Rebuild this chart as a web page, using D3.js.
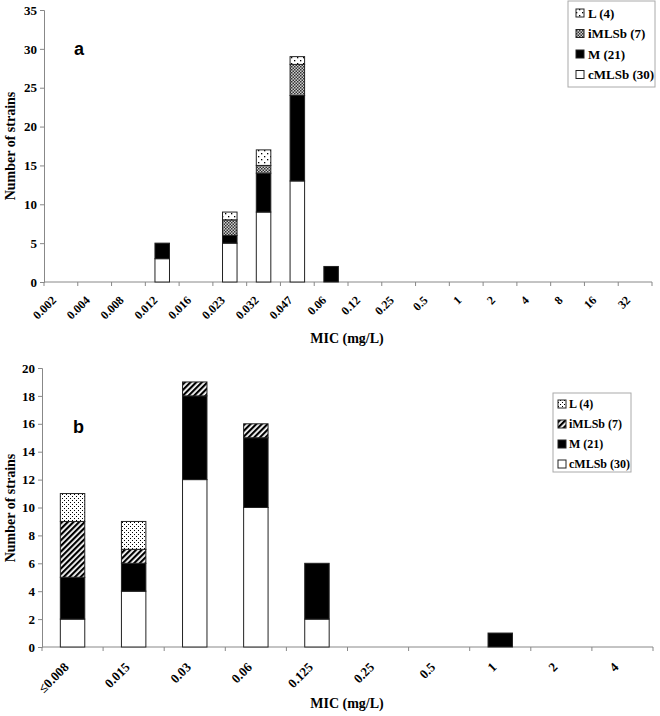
<!DOCTYPE html>
<html><head><meta charset="utf-8">
<script src="https://cdn.jsdelivr.net/npm/d3@7"></script>
<style>body{margin:0;background:#fff}svg{display:block}</style>
</head><body>
<svg id="c" width="660" height="716"></svg>
<script>
// ---- data ----
const seriesKeys = ["cMLSb", "M", "iMLSb", "L"];
const legendLabels = ["L (4)", "iMLSb (7)", "M (21)", "cMLSb (30)"];

const catsA = ["0.002","0.004","0.008","0.012","0.016","0.023","0.032","0.047","0.06","0.12","0.25","0.5","1","2","4","8","16","32"];
const cMLSbA = [0,0,0,3,0,5,9,13,0,0,0,0,0,0,0,0,0,0];
const MA     = [0,0,0,2,0,1,5,11,2,0,0,0,0,0,0,0,0,0];
const iMLSbA = [0,0,0,0,0,2,1,4,0,0,0,0,0,0,0,0,0,0];
const LA     = [0,0,0,0,0,1,2,1,0,0,0,0,0,0,0,0,0,0];
const yTicksA = [0,5,10,15,20,25,30,35];

const catsB = ["\u22640.008","0.015","0.03","0.06","0.125","0.25","0.5","1","2","4"];
const cMLSbB = [2,4,12,10,2,0,0,0,0,0];
const MB     = [3,2,6,5,4,0,0,1,0,0];
const iMLSbB = [4,1,1,1,0,0,0,0,0,0];
const LB     = [2,2,0,0,0,0,0,0,0,0];
const yTicksB = [0,2,4,6,8,10,12,14,16,18,20];

const svg = d3.select("#c");
const defs = svg.append("defs");

// patterns
function dots(id, size, r) {
  const p = defs.append("pattern").attr("id", id).attr("patternUnits","userSpaceOnUse")
    .attr("width", size).attr("height", size);
  p.append("rect").attr("width",size).attr("height",size).attr("fill","#fff");
  p.append("rect").attr("x",0).attr("y",0).attr("width",r).attr("height",r).attr("fill","#000");
  p.append("rect").attr("x",size/2).attr("y",size/2).attr("width",r).attr("height",r).attr("fill","#000");
}
dots("dotA", 6, 1.3);
dots("dotB", 4, 1);
{
  const p = defs.append("pattern").attr("id","checkA").attr("patternUnits","userSpaceOnUse").attr("width",3).attr("height",3);
  p.append("rect").attr("width",3).attr("height",3).attr("fill","#cfcfcf");
  p.append("rect").attr("width",1.5).attr("height",1.5).attr("fill","#333");
  p.append("rect").attr("x",1.5).attr("y",1.5).attr("width",1.5).attr("height",1.5).attr("fill","#333");
}
{
  const p = defs.append("pattern").attr("id","hatchB").attr("patternUnits","userSpaceOnUse")
    .attr("width",4).attr("height",4).attr("patternTransform","rotate(45)");
  p.append("rect").attr("width",4).attr("height",4).attr("fill","#fff");
  p.append("rect").attr("x",0).attr("width",2.2).attr("height",4).attr("fill","#000");
}

const SERIF = "'Liberation Serif', 'Times New Roman', serif";

function panel(o) {
  const g = svg.append("g");
  const x = d3.scaleBand().domain(o.cats).range([o.x0, o.x1]).padding(0);
  const y = d3.scaleLinear().domain([0, o.ymax]).range([o.y0, o.y1]);
  const rows = o.cats.map((c, i) => ({cat: c, cMLSb: o.s[0][i], M: o.s[1][i], iMLSb: o.s[2][i], L: o.s[3][i]}));
  const stack = d3.stack().keys(seriesKeys)(rows);
  const bw = x.bandwidth() * o.barFrac;

  // axes
  const ya = g.append("g").attr("transform", `translate(${o.x0},0)`)
    .call(d3.axisLeft(y).tickValues(o.yTicks).tickSize(4).tickPadding(3).tickFormat(d3.format("d")));
  ya.select(".domain").attr("stroke", "#888");
  ya.selectAll(".tick line").attr("stroke", "#888");
  ya.selectAll("text").attr("font-family", SERIF)
    .attr("font-weight", "bold").attr("font-size", o.yFs).attr("fill", "#000");

  // x axis line and boundary ticks
  g.append("line").attr("x1", o.x0).attr("x2", o.x1).attr("y1", o.y0).attr("y2", o.y0).attr("stroke", "#888");
  const bounds = o.cats.map(c => x(c)).concat([o.x1]);
  g.selectAll(".xt").data(bounds).join("line")
    .attr("x1", d => d).attr("x2", d => d).attr("y1", o.y0).attr("y2", o.y0 + 4).attr("stroke", "#888");

  // bars
  stack.forEach(layer => {
    const key = layer.key;
    g.selectAll(null).data(layer.filter(d => d[1] - d[0] > 0)).join("rect")
      .attr("x", d => x(d.data.cat) + x.bandwidth() / 2 - bw / 2)
      .attr("width", bw)
      .attr("y", d => y(d[1]))
      .attr("height", d => y(d[0]) - y(d[1]))
      .attr("fill", o.fills[key])
      .attr("stroke", "#222").attr("stroke-width", 1);
  });

  // x labels
  g.selectAll(".xl").data(o.cats).join("text")
    .attr("transform", d => `translate(${x(d) + x.bandwidth() / 2 + o.lblDx},${o.y0 + o.lblDy}) rotate(-45)`)
    .attr("text-anchor", "end")
    .attr("font-family", SERIF)
    .attr("font-weight", "bold").attr("font-size", o.xFs)
    .text(d => d);

  // axis titles
  g.append("text").attr("x", 347).attr("y", o.xTitleY).attr("text-anchor", "middle")
    .attr("font-family", SERIF)
    .attr("font-weight", "bold").attr("font-size", 14).text("MIC (mg/L)");
  g.append("text").attr("transform", `translate(${o.yTitleX},${o.yTitleY}) rotate(-90)`)
    .attr("text-anchor", "middle")
    .attr("font-family", SERIF)
    .attr("font-weight", "bold").attr("font-size", 14).text("Number of strains");

  // panel letter
  g.append("text").attr("x", o.letterX).attr("y", o.letterY)
    .attr("font-family", "'Liberation Sans', Arial, sans-serif")
    .attr("font-weight", "bold").attr("font-size", 18).text(o.letter);

  // legend
  const L = o.leg;
  g.append("rect").attr("x", L.x).attr("y", L.y).attr("width", L.w).attr("height", L.h)
    .attr("fill", "#fff").attr("stroke", "#aaa");
  const order = ["L", "iMLSb", "M", "cMLSb"];
  order.forEach((k, i) => {
    const cy = L.y + L.first + i * L.step;
    g.append("rect").attr("x", L.x + L.sx).attr("y", cy - L.ss / 2).attr("width", L.ss).attr("height", L.ss)
      .attr("fill", o.fills[k]).attr("stroke", "#222");
    g.append("text").attr("x", L.x + L.tx).attr("y", cy).attr("dy", "0.35em")
      .attr("font-family", SERIF)
      .attr("font-weight", "bold").attr("font-size", L.fs).text(legendLabels[i]);
  });
}

panel({
  cats: catsA, s: [cMLSbA, MA, iMLSbA, LA], yTicks: yTicksA, ymax: 35,
  x0: 44, x1: 652, y0: 282, y1: 10, barFrac: 0.43,
  fills: {cMLSb: "#fff", M: "#000", iMLSb: "url(#checkA)", L: "url(#dotA)"},
  yFs: 13, xFs: 12, lblDx: -4, lblDy: 19,
  xTitleY: 343, yTitleX: 15, yTitleY: 146,
  letter: "a", letterX: 74, letterY: 55,
  leg: {x: 568, y: 1, w: 87, h: 86, first: 12, step: 20.5, sx: 8, ss: 8, tx: 20, fs: 13}
});

panel({
  cats: catsB, s: [cMLSbB, MB, iMLSbB, LB], yTicks: yTicksB, ymax: 20,
  x0: 42, x1: 653, y0: 647, y1: 368, barFrac: 0.4,
  fills: {cMLSb: "#fff", M: "#000", iMLSb: "url(#hatchB)", L: "url(#dotB)"},
  yFs: 13, xFs: 13, lblDx: -3, lblDy: 21,
  xTitleY: 708, yTitleX: 15, yTitleY: 508,
  letter: "b", letterX: 73, letterY: 433,
  leg: {x: 553, y: 393, w: 78, h: 79, first: 11, step: 20, sx: 5, ss: 8, tx: 16, fs: 12}
});
</script>
</body></html>
